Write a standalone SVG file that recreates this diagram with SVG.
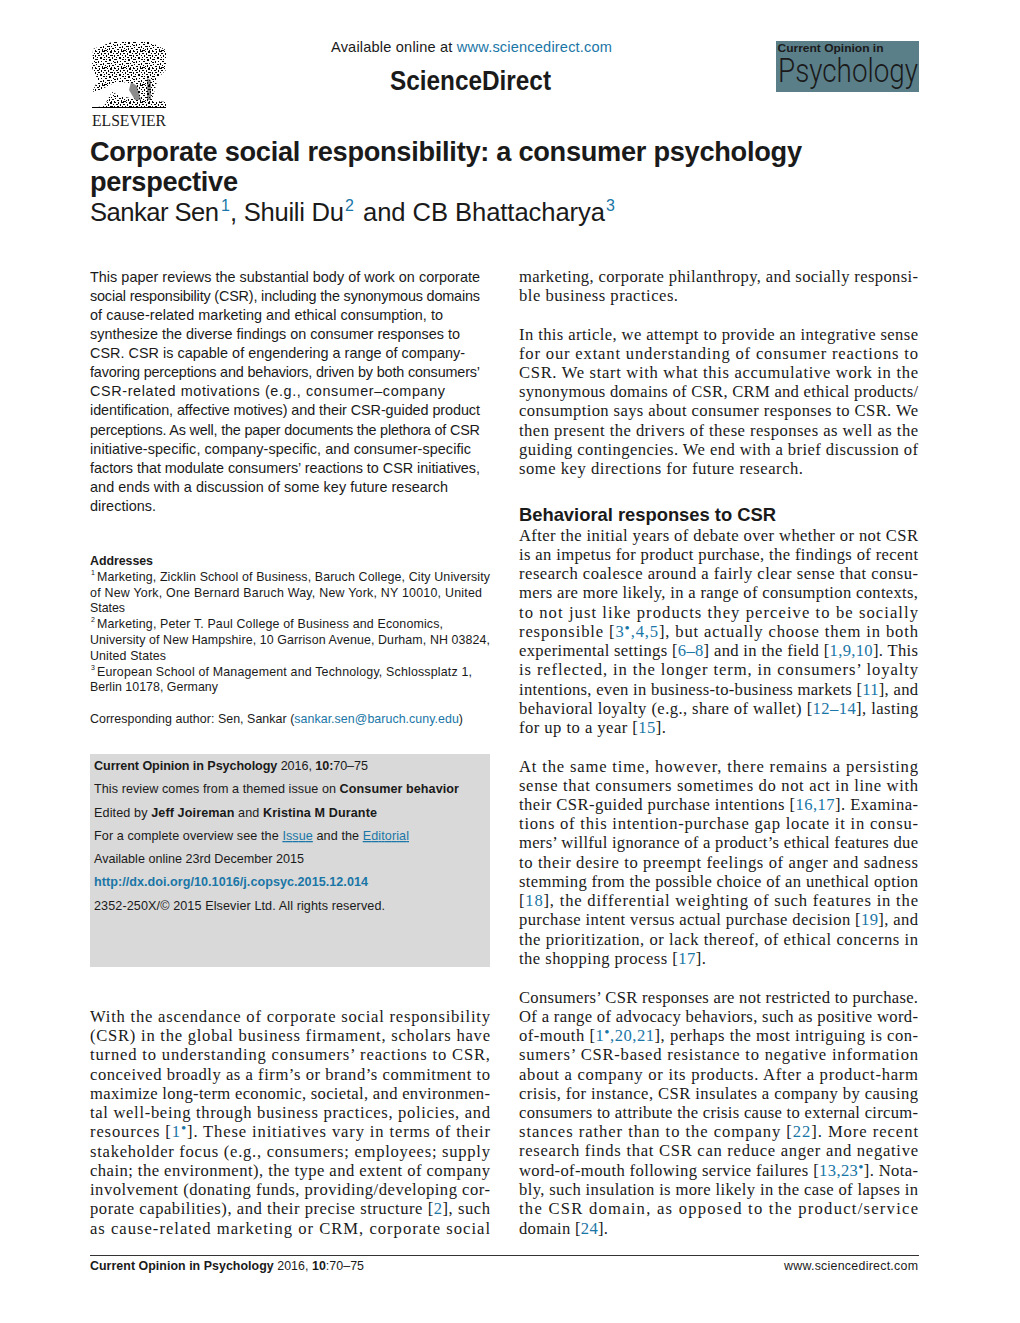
<svg xmlns="http://www.w3.org/2000/svg" width="1020" height="1323" viewBox="0 0 1020 1323">
<style>
text{fill:#1a1a1a;white-space:pre}
.s{font-family:"Liberation Sans",Arial,sans-serif}
.t{font-family:"Liberation Serif","Times New Roman",serif;font-size:16.6px}
.a{font-family:"Liberation Sans",Arial,sans-serif;font-size:14.4px}
.r{font-family:"Liberation Sans",Arial,sans-serif;font-size:12.4px}
.b{font-family:"Liberation Sans",Arial,sans-serif;font-size:12.6px}
.n{font-family:"Liberation Sans",Arial,sans-serif;font-size:7px}
.d{font-size:15px}
.l{fill:#1a76a6}
.k{font-weight:700}
</style>
<defs>
<pattern id="stipple" patternUnits="userSpaceOnUse" width="19" height="17">
<path shape-rendering="crispEdges" fill="#000" d="M0 0h2v1h-2zM4 0h1v2h-1zM7 0h3v1h-3zM12 0h1v1h-1zM15 0h2v2h-2zM2 2h2v1h-2zM6 2h1v2h-1zM9 2h2v1h-2zM13 2h1v2h-1zM18 2h1v1h-1zM0 4h1v2h-1zM3 4h2v1h-2zM8 4h1v1h-1zM11 4h1v2h-1zM15 4h3v1h-3zM2 6h1v1h-1zM5 6h2v2h-2zM9 6h1v1h-1zM13 6h2v1h-2zM17 6h1v2h-1zM0 8h3v1h-3zM8 8h2v1h-2zM11 8h1v1h-1zM14 8h2v2h-2zM3 10h1v2h-1zM6 10h1v1h-1zM10 10h2v1h-2zM18 10h1v1h-1zM0 11h2v1h-2zM8 12h1v2h-1zM12 12h3v1h-3zM16 12h1v1h-1zM1 13h1v1h-1zM5 13h2v1h-2zM10 14h1v1h-1zM14 14h1v2h-1zM17 14h2v1h-2zM3 15h2v1h-2zM7 15h1v2h-1zM12 15h1v1h-1zM0 16h1v1h-1zM9 16h3v1h-3zM16 16h1v1h-1z"/>
</pattern>
</defs>
<rect width="1020" height="1323" fill="#fff"/>
<g id="elsevier-logo">
<path fill="url(#stipple)" d="M93 49L112 42L150 42L166 50L166 70L158 78L152 100L140 102L136 84L122 82L112 84L100 90L92 92L98 80L92 68Z"/>
<path d="M131 82L137 86L141 100L135 100L129 90ZM147 78L151 80L151 100L147 100Z" fill="#000" opacity=".45"/>
<path fill="url(#stipple)" d="M104 106L112 92L120 96L130 98L146 100L166 102L166 108L92 108Z"/>
<rect x="92" y="107" width="74" height="1" fill="#000"/>
<text x="92" y="126" font-family="Liberation Serif,serif" font-size="16.5" textLength="74" lengthAdjust="spacingAndGlyphs" fill="#000">ELSEVIER</text>
</g>
<g id="header">
<text class="s" x="331" y="52" font-size="14.6" textLength="281">Available online at <tspan class="l">www.sciencedirect.com</tspan></text>
<text class="s k" x="390" y="90" font-size="27" textLength="161" lengthAdjust="spacingAndGlyphs" fill="#000">ScienceDirect</text>
</g>
<g id="journal-logo">
<rect x="776" y="41" width="143" height="51" fill="#5a7f89"/>
<text class="s k" x="777.5" y="52" font-size="11" textLength="106" lengthAdjust="spacingAndGlyphs">Current Opinion in</text>
<text x="778" y="82" font-family="Roboto,'Liberation Sans',sans-serif" font-weight="300" font-size="33" textLength="140" lengthAdjust="spacingAndGlyphs">Psychology</text>
</g>
<g id="title">
<text class="s k" x="90" y="161" font-size="27.2" textLength="712">Corporate social responsibility: a consumer psychology</text>
<text class="s k" x="90" y="191" font-size="27.2" textLength="148">perspective</text>
<text class="s" x="90" y="221" font-size="25.6" textLength="129">Sankar Sen</text>
<text class="s l" x="221" y="211" font-size="16">1</text>
<text class="s" x="230" y="221" font-size="25.6" textLength="114">, Shuili Du</text>
<text class="s l" x="345" y="211" font-size="16">2</text>
<text class="s" x="363" y="221" font-size="25.6" textLength="242">and CB Bhattacharya</text>
<text class="s l" x="606" y="211" font-size="16">3</text>
</g>
<g id="abstract" class="a">
<text class="a" x="90" y="282" textLength="390">This paper reviews the substantial body of work on corporate</text>
<text class="a" x="90" y="301" textLength="390">social responsibility (CSR), including the synonymous domains</text>
<text class="a" x="90" y="320" textLength="353">of cause-related marketing and ethical consumption, to</text>
<text class="a" x="90" y="339" textLength="370">synthesize the diverse findings on consumer responses to</text>
<text class="a" x="90" y="358" textLength="375">CSR. CSR is capable of engendering a range of company-</text>
<text class="a" x="90" y="377" textLength="390">favoring perceptions and behaviors, driven by both consumers’</text>
<text class="a" x="90" y="396" textLength="355">CSR-related motivations (e.g., consumer–company</text>
<text class="a" x="90" y="415" textLength="390">identification, affective motives) and their CSR-guided product</text>
<text class="a" x="90" y="435" textLength="390">perceptions. As well, the paper documents the plethora of CSR</text>
<text class="a" x="90" y="454" textLength="381">initiative-specific, company-specific, and consumer-specific</text>
<text class="a" x="90" y="473" textLength="390">factors that modulate consumers’ reactions to CSR initiatives,</text>
<text class="a" x="90" y="492" textLength="358">and ends with a discussion of some key future research</text>
<text class="a" x="90" y="511" textLength="66">directions.</text>
</g>
<g id="addresses">
<text class="r k" x="90" y="565" textLength="63">Addresses</text>
<text class="n" x="91" y="575">1</text>
<text class="r" x="97" y="581" textLength="393">Marketing, Zicklin School of Business, Baruch College, City University</text>
<text class="r" x="90" y="597" textLength="392">of New York, One Bernard Baruch Way, New York, NY 10010, United</text>
<text class="r" x="90" y="612" textLength="35">States</text>
<text class="n" x="91" y="622">2</text>
<text class="r" x="97" y="628" textLength="346">Marketing, Peter T. Paul College of Business and Economics,</text>
<text class="r" x="90" y="644" textLength="400">University of New Hampshire, 10 Garrison Avenue, Durham, NH 03824,</text>
<text class="r" x="90" y="660" textLength="76">United States</text>
<text class="n" x="91" y="670">3</text>
<text class="r" x="97" y="676" textLength="375">European School of Management and Technology, Schlossplatz 1,</text>
<text class="r" x="90" y="691" textLength="128">Berlin 10178, Germany</text>
<text class="r" x="90" y="723" textLength="373">Corresponding author: Sen, Sankar (<tspan class="l">sankar.sen@baruch.cuny.edu</tspan>)</text>
</g>
<g id="info-box">
<rect x="90" y="754" width="400" height="213" fill="#d9d9d9"/>
<text class="b" x="94" y="770" textLength="274"><tspan class="k">Current Opinion in Psychology</tspan> 2016, <tspan class="k">10:</tspan>70–75</text>
<text class="b" x="94" y="793" textLength="365">This review comes from a themed issue on <tspan class="k">Consumer behavior</tspan></text>
<text class="b" x="94" y="817" textLength="283">Edited by <tspan class="k">Jeff Joireman</tspan> and <tspan class="k">Kristina M Durante</tspan></text>
<text class="b" x="94" y="840" textLength="315">For a complete overview see the <tspan class="l" text-decoration="underline">Issue</tspan> and the <tspan class="l" text-decoration="underline">Editorial</tspan></text>
<text class="b" x="94" y="863" textLength="210">Available online 23rd December 2015</text>
<text class="b k l" x="94" y="886" textLength="274">http://dx.doi.org/10.1016/j.copsyc.2015.12.014</text>
<text class="b" x="94" y="910" textLength="291">2352-250X/© 2015 Elsevier Ltd. All rights reserved.</text>
</g>
<g id="left-body" transform="translate(0,1)">
<text class="t" x="90" y="1021" textLength="400">With the ascendance of corporate social responsibility</text>
<text class="t" x="90" y="1040" textLength="400">(CSR) in the global business firmament, scholars have</text>
<text class="t" x="90" y="1059" textLength="400">turned to understanding consumers’ reactions to CSR,</text>
<text class="t" x="90" y="1079" textLength="400">conceived broadly as a firm’s or brand’s commitment to</text>
<text class="t" x="90" y="1098" textLength="400">maximize long-term economic, societal, and environmen-</text>
<text class="t" x="90" y="1117" textLength="400">tal well-being through business practices, policies, and</text>
<text class="t" x="90" y="1136" textLength="400">resources [<tspan class="l">1<tspan dy="-4" class="d">•</tspan></tspan><tspan dy="4">]. These initiatives vary in terms of their</tspan></text>
<text class="t" x="90" y="1156" textLength="400">stakeholder focus (e.g., consumers; employees; supply</text>
<text class="t" x="90" y="1175" textLength="400">chain; the environment), the type and extent of company</text>
<text class="t" x="90" y="1194" textLength="400">involvement (donating funds, providing/developing cor-</text>
<text class="t" x="90" y="1213" textLength="400">porate capabilities), and their precise structure [<tspan class="l">2</tspan>], such</text>
<text class="t" x="90" y="1233" textLength="400">as cause-related marketing or CRM, corporate social</text>
</g>
<g id="right-body">
<text class="t" x="519" y="282" textLength="399">marketing, corporate philanthropy, and socially responsi-</text>
<text class="t" x="519" y="301" textLength="159">ble business practices.</text>
<text class="t" x="519" y="340" textLength="399">In this article, we attempt to provide an integrative sense</text>
<text class="t" x="519" y="359" textLength="399">for our extant understanding of consumer reactions to</text>
<text class="t" x="519" y="378" textLength="399">CSR. We start with what this accumulative work in the</text>
<text class="t" x="519" y="397" textLength="399">synonymous domains of CSR, CRM and ethical products/</text>
<text class="t" x="519" y="416" textLength="399">consumption says about consumer responses to CSR. We</text>
<text class="t" x="519" y="436" textLength="399">then present the drivers of these responses as well as the</text>
<text class="t" x="519" y="455" textLength="399">guiding contingencies. We end with a brief discussion of</text>
<text class="t" x="519" y="474" textLength="284">some key directions for future research.</text>
<text class="s k" x="519" y="521" font-size="18.4" textLength="257">Behavioral responses to CSR</text>
<text class="t" x="519" y="541" textLength="399">After the initial years of debate over whether or not CSR</text>
<text class="t" x="519" y="560" textLength="399">is an impetus for product purchase, the findings of recent</text>
<text class="t" x="519" y="579" textLength="399">research coalesce around a fairly clear sense that consu-</text>
<text class="t" x="519" y="598" textLength="399">mers are more likely, in a range of consumption contexts,</text>
<text class="t" x="519" y="618" textLength="399">to not just like products they perceive to be socially</text>
<text class="t" x="519" y="637" textLength="399">responsible [<tspan class="l">3<tspan dy="-4" class="d">•</tspan><tspan dy="4">,4,5</tspan></tspan>], but actually choose them in both</text>
<text class="t" x="519" y="656" textLength="399">experimental settings [<tspan class="l">6–8</tspan>] and in the field [<tspan class="l">1,9,10</tspan>]. This</text>
<text class="t" x="519" y="675" textLength="399">is reflected, in the longer term, in consumers’ loyalty</text>
<text class="t" x="519" y="695" textLength="399">intentions, even in business-to-business markets [<tspan class="l">11</tspan>], and</text>
<text class="t" x="519" y="714" textLength="399">behavioral loyalty (e.g., share of wallet) [<tspan class="l">12–14</tspan>], lasting</text>
<text class="t" x="519" y="733" textLength="147">for up to a year [<tspan class="l">15</tspan>].</text>
<text class="t" x="519" y="772" textLength="399">At the same time, however, there remains a persisting</text>
<text class="t" x="519" y="791" textLength="399">sense that consumers sometimes do not act in line with</text>
<text class="t" x="519" y="810" textLength="399">their CSR-guided purchase intentions [<tspan class="l">16,17</tspan>]. Examina-</text>
<text class="t" x="519" y="829" textLength="399">tions of this intention-purchase gap locate it in consu-</text>
<text class="t" x="519" y="848" textLength="399">mers’ willful ignorance of a product’s ethical features due</text>
<text class="t" x="519" y="868" textLength="399">to their desire to preempt feelings of anger and sadness</text>
<text class="t" x="519" y="887" textLength="399">stemming from the possible choice of an unethical option</text>
<text class="t" x="519" y="906" textLength="399">[<tspan class="l">18</tspan>], the differential weighting of such features in the</text>
<text class="t" x="519" y="925" textLength="399">purchase intent versus actual purchase decision [<tspan class="l">19</tspan>], and</text>
<text class="t" x="519" y="945" textLength="399">the prioritization, or lack thereof, of ethical concerns in</text>
<text class="t" x="519" y="964" textLength="187">the shopping process [<tspan class="l">17</tspan>].</text>
<text class="t" x="519" y="1003" textLength="399">Consumers’ CSR responses are not restricted to purchase.</text>
<text class="t" x="519" y="1022" textLength="399">Of a range of advocacy behaviors, such as positive word-</text>
<text class="t" x="519" y="1041" textLength="399">of-mouth [<tspan class="l">1<tspan dy="-4" class="d">•</tspan><tspan dy="4">,20,21</tspan></tspan>], perhaps the most intriguing is con-</text>
<text class="t" x="519" y="1060" textLength="399">sumers’ CSR-based resistance to negative information</text>
<text class="t" x="519" y="1080" textLength="399">about a company or its products. After a product-harm</text>
<text class="t" x="519" y="1099" textLength="399">crisis, for instance, CSR insulates a company by causing</text>
<text class="t" x="519" y="1118" textLength="399">consumers to attribute the crisis cause to external circum-</text>
<text class="t" x="519" y="1137" textLength="399">stances rather than to the company [<tspan class="l">22</tspan>]. More recent</text>
<text class="t" x="519" y="1156" textLength="399">research finds that CSR can reduce anger and negative</text>
<text class="t" x="519" y="1176" textLength="399">word-of-mouth following service failures [<tspan class="l">13,23<tspan dy="-4" class="d">•</tspan></tspan><tspan dy="4">]. Nota-</tspan></text>
<text class="t" x="519" y="1195" textLength="399">bly, such insulation is more likely in the case of lapses in</text>
<text class="t" x="519" y="1214" textLength="399">the CSR domain, as opposed to the product/service</text>
<text class="t" x="519" y="1234" textLength="89">domain [<tspan class="l">24</tspan>].</text>
</g>
<g id="footer">
<rect x="90" y="1255" width="829" height="1" fill="#333"/>
<text class="r" x="90" y="1270" textLength="274"><tspan class="k">Current Opinion in Psychology</tspan> 2016, <tspan class="k">10</tspan>:70–75</text>
<text class="r" x="784" y="1270" textLength="134">www.sciencedirect.com</text>
</g>
</svg>
